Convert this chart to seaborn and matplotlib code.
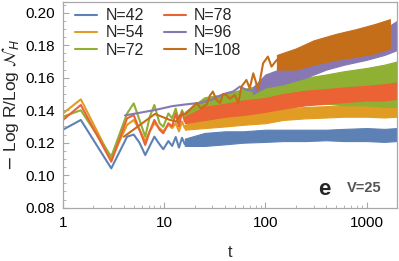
import numpy
import pandas
import matplotlib
matplotlib.use('Agg')
import matplotlib.pyplot as plt
import matplotlib.ticker as mticker
import seaborn as sns

labels = ['N=42', 'N=54', 'N=72', 'N=78', 'N=96', 'N=108']
colors = ['#5E81B5', '#E19C24', '#8FB032', '#EB6235', '#8778B3', '#C56E1A']

# early (sparsely sampled) part of the four small systems
t_early = [1, 1.5, 3, 4.3, 5, 5.7, 6.5, 7.2, 8, 9, 9.8, 11, 12, 13, 14, 15, 16]
v_n42 = [0.128, 0.134, 0.1042, 0.1237, 0.125, 0.120, 0.1124, 0.118, 0.1237, 0.119, 0.116, 0.121, 0.118,
         0.1235, 0.117, 0.123, 0.119]
v_n54 = [0.138, 0.1467, 0.1098, 0.131, 0.134, 0.128, 0.121, 0.127, 0.132, 0.129, 0.127, 0.131, 0.129,
         0.132, 0.127, 0.133, 0.129]
v_n72 = [0.136, 0.140, 0.1114, 0.138, 0.1442, 0.134, 0.1237, 0.136, 0.1432, 0.132, 0.1298, 0.138, 0.135,
         0.141, 0.133, 0.140, 0.136]
v_n78 = [0.134, 0.1432, 0.1083, 0.135, 0.137, 0.128, 0.1186, 0.127, 0.134, 0.128, 0.1258, 0.132, 0.130,
         0.138, 0.130, 0.139, 0.133]

# the two large systems start later and are sampled more sparsely
t_n96 = [4.1, 8.1, 12, 16, 22.6, 29.5, 35.7, 41, 48, 56, 65, 75]
v_n96 = [0.1368, 0.1401, 0.1425, 0.1435, 0.1445, 0.1465, 0.149, 0.1504, 0.1515, 0.1545, 0.1525, 0.152]
t_n108 = [4.0, 8.1, 11.4, 13.3, 14.3, 16.5, 20.9, 23, 26.3, 28.3, 30.3, 33, 35.7, 38.1, 41, 44.6,
          50, 54, 58, 65, 70, 76, 85, 95, 106, 115, 130]
v_n108 = [0.1237, 0.1377, 0.134, 0.133, 0.137, 0.138, 0.1445, 0.141, 0.1435, 0.149, 0.1515, 0.146,
          0.1445, 0.150, 0.1494, 0.147, 0.1494, 0.1442, 0.1545, 0.1586, 0.1535, 0.1627, 0.1524,
          0.1689, 0.173, 0.1668, 0.171]

# late noisy part: lower / upper envelope of the fluctuations
t_band = [16, 25, 40, 60, 100, 150, 250, 400, 600, 1000, 1500, 2000]
lo_n42 = [0.118, 0.118, 0.119, 0.120, 0.1205, 0.121, 0.121, 0.1215, 0.121, 0.121, 0.1205, 0.121]
hi_n42 = [0.1225, 0.126, 0.127, 0.127, 0.128, 0.128, 0.128, 0.128, 0.1285, 0.129, 0.1285, 0.129]
lo_n54 = [0.128, 0.129, 0.130, 0.131, 0.132, 0.134, 0.135, 0.1355, 0.136, 0.136, 0.1355, 0.136]
hi_n54 = [0.131, 0.136, 0.137, 0.138, 0.139, 0.141, 0.142, 0.1425, 0.143, 0.143, 0.1425, 0.143]
lo_n72 = [0.134, 0.134, 0.136, 0.138, 0.141, 0.143, 0.144, 0.144, 0.143, 0.143, 0.142, 0.142]
hi_n72 = [0.139, 0.148, 0.150, 0.153, 0.156, 0.158, 0.160, 0.162, 0.164, 0.166, 0.168, 0.170]
lo_n78 = [0.132, 0.134, 0.136, 0.137, 0.139, 0.141, 0.143, 0.144, 0.145, 0.146, 0.146, 0.147]
hi_n78 = [0.136, 0.142, 0.144, 0.146, 0.1475, 0.150, 0.152, 0.153, 0.154, 0.155, 0.156, 0.157]
t_band_n96 = [75, 100, 150, 250, 400, 600, 1000, 1500, 2000]
lo_n96 = [0.150, 0.154, 0.156, 0.160, 0.165, 0.168, 0.171, 0.174, 0.177]
hi_n96 = [0.154, 0.162, 0.166, 0.171, 0.178, 0.182, 0.186, 0.190, 0.195]
t_band_n108 = [130, 200, 300, 500, 800, 1200, 1700]
lo_n108 = [0.165, 0.165, 0.168, 0.171, 0.173, 0.175, 0.178]
hi_n108 = [0.174, 0.178, 0.183, 0.187, 0.190, 0.193, 0.196]


lines = [
	(t_early, v_n42), (t_early, v_n54), (t_early, v_n72), (t_early, v_n78),
	(t_n96, v_n96), (t_n108, v_n108),
]
bands = [
	(t_band, lo_n42, hi_n42), (t_band, lo_n54, hi_n54), (t_band, lo_n72, hi_n72),
	(t_band, lo_n78, hi_n78), (t_band_n96, lo_n96, hi_n96), (t_band_n108, lo_n108, hi_n108),
]

sns.set_style('ticks')
plt.rcParams['font.family'] = ['Liberation Sans', 'DejaVu Sans']
plt.rcParams['mathtext.fontset'] = 'dejavusans'

fig = plt.figure(figsize=(3.99, 2.61), dpi=100)
ax = fig.add_axes([63/399, 1-207.7/261, 334/399, 205.7/261])

for i, ((tl, vl), (tb, lo, hi)) in enumerate(zip(lines, bands)):
	df = pandas.DataFrame({'t': tl, 'v': vl})
	sns.lineplot(data=df, x='t', y='v', ax=ax, color=colors[i], lw=1.5,
				 estimator=None, sort=False, label=labels[i], zorder=2+0.1*i)
	ax.fill_between(tb, lo, hi, color=colors[i], lw=0.8, edgecolor=colors[i], zorder=2+0.1*i)

ax.set_xscale('log')
ax.set_xlim(1, 2000)
ax.set_ylim(0.08, 0.08 + 205.7/1625)

ax.xaxis.set_major_locator(mticker.FixedLocator([1, 10, 100, 1000]))
ax.xaxis.set_major_formatter(mticker.FixedFormatter(['1', '10', '100', '1000']))
ax.xaxis.set_minor_locator(mticker.LogLocator(base=10, subs=numpy.arange(2, 10)))
ax.xaxis.set_minor_formatter(mticker.NullFormatter())
ax.yaxis.set_major_locator(mticker.FixedLocator([0.08, 0.10, 0.12, 0.14, 0.16, 0.18, 0.20]))
ax.yaxis.set_major_formatter(mticker.FormatStrFormatter('%.2f'))
ax.yaxis.set_minor_locator(mticker.MultipleLocator(0.005))

frame = '#A8A8A8'
for s in ax.spines.values():
	s.set_color(frame)
	s.set_linewidth(0.9)
ax.tick_params(which='both', direction='in', color=frame, labelsize=11, labelcolor='black', pad=6)
ax.tick_params(which='major', length=4, width=0.8)
ax.tick_params(which='minor', length=2.2, width=0.6)

ax.set_xlabel('t', fontsize=11.5, labelpad=11)
ax.set_ylabel(r'$-$ Log R/Log $\mathcal{N}_H$', fontsize=12.5, labelpad=3)

ax.legend(loc='upper left', bbox_to_anchor=(0.036, 0.97), ncol=2, frameon=False,
		  fontsize=11.5, handlelength=1.4, handletextpad=0.5, columnspacing=1.25,
		  labelspacing=0.14, borderpad=0, borderaxespad=0)

ax.text(0.781, 0.09, 'e', transform=ax.transAxes, fontsize=16, fontweight='bold', ha='center', va='center')
ax.text(0.901, 0.096, 'V=25', transform=ax.transAxes, fontsize=10.5, fontweight='bold', color='#555555', ha='center', va='center')

fig.savefig('out.png', dpi=100)
